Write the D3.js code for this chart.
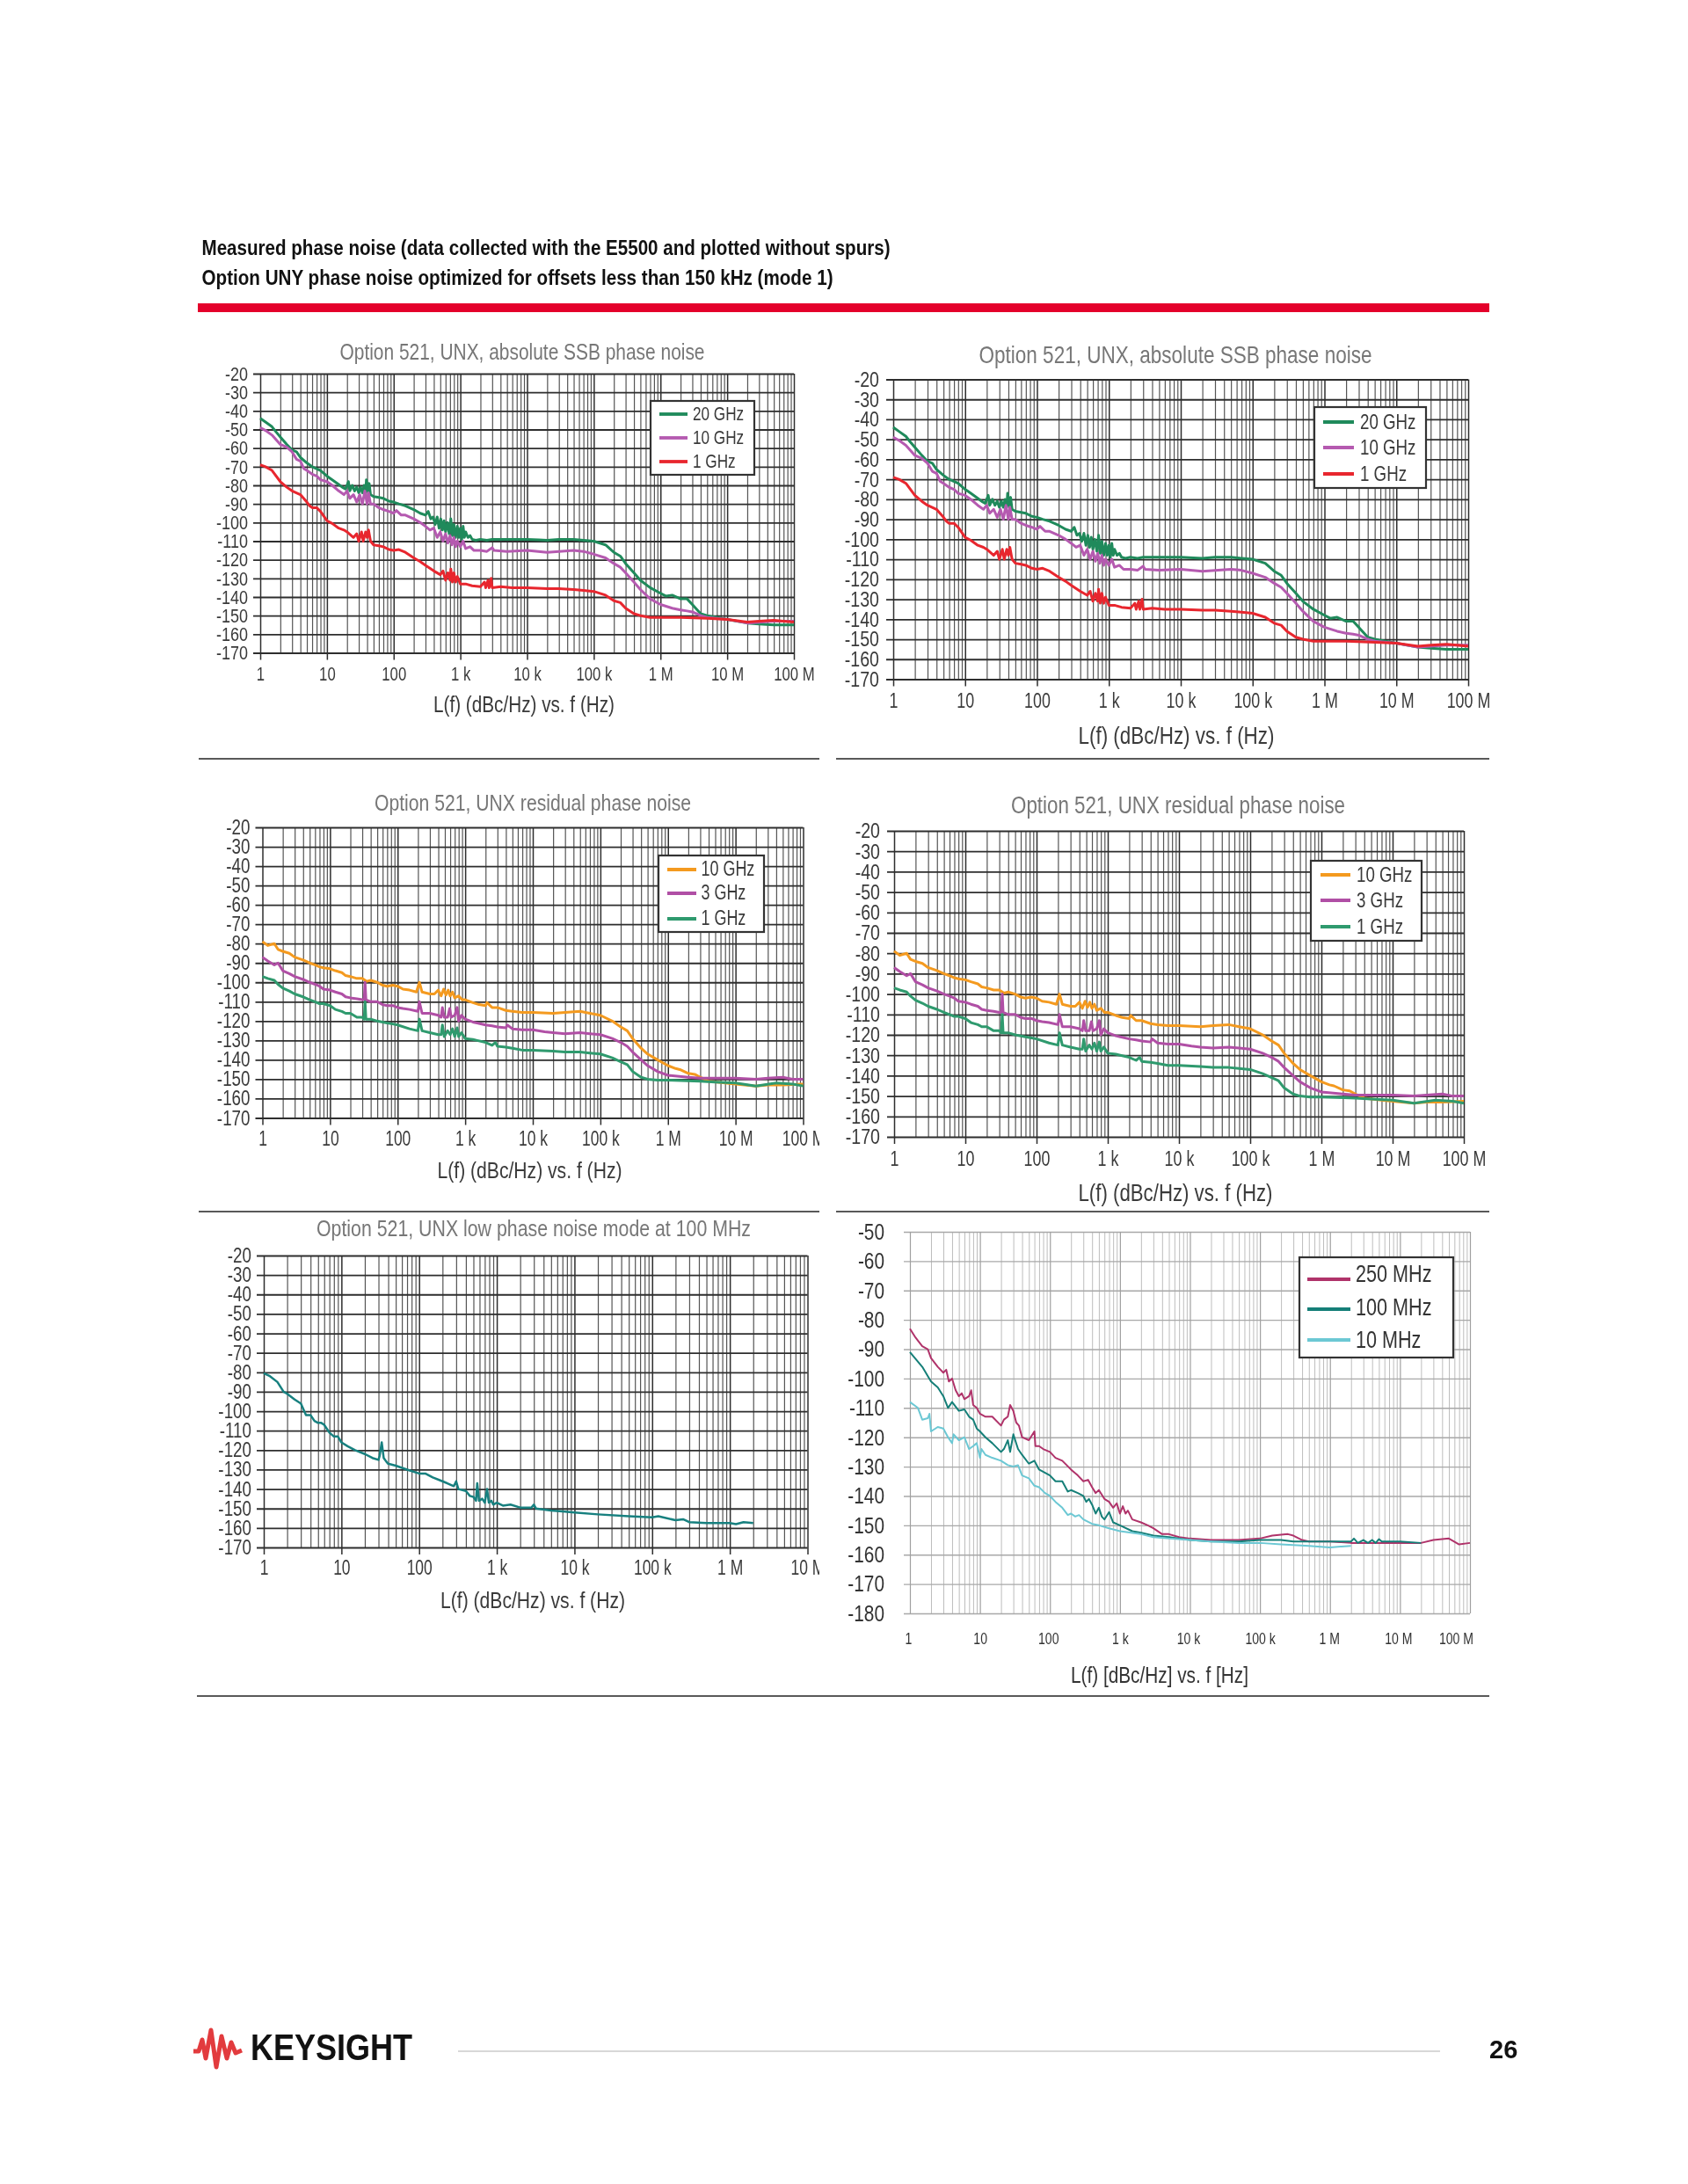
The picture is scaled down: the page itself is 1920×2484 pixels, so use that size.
<!DOCTYPE html>
<html><head><meta charset="utf-8">
<script src="https://cdn.jsdelivr.net/npm/d3@7"></script>
<style>html,body{margin:0;padding:0;background:#fff}svg{display:block;filter:blur(0.5px)}text{font-family:"Liberation Sans",Arial,sans-serif}</style>
</head><body><svg id="page" width="1920" height="2484"></svg>
<script>
// ---------- text ----------
const headingLines = ["Measured phase noise (data collected with the E5500 and plotted without spurs)",
  "Option UNY phase noise optimized for offsets less than 150 kHz (mode 1)"];
const titleAbsolute = "Option 521, UNX, absolute SSB phase noise";
const titleResidual = "Option 521, UNX residual phase noise";
const titleLow = "Option 521, UNX low phase noise mode at 100 MHz";
const axisTitleRound = "L(f) (dBc/Hz) vs. f (Hz)";
const axisTitleSquare = "L(f) [dBc/Hz] vs. f [Hz]";
const freqTicks = [1,10,100,1e3,1e4,1e5,1e6,1e7,1e8];
const freqLabels = ["1","10","100","1 k","10 k","100 k","1 M","10 M","100 M"];
const dbTicksA = [-20,-30,-40,-50,-60,-70,-80,-90,-100,-110,-120,-130,-140,-150,-160,-170];
const dbTicksB = [-50,-60,-70,-80,-90,-100,-110,-120,-130,-140,-150,-160,-170,-180];

// ---------- series: [offset Hz, dBc/Hz] ----------
const abs20GHz = [[1,-44],[1.2,-46],[1.5,-48.5],[1.7,-51],[2,-54],[2.5,-58],[3,-61],[3.5,-62],[4,-65],[5,-68],[6,-70],[8,-72],[10,-75],[12,-77],[15,-79.5],[17,-81],[19,-82],[21,-78],[22,-83],[24,-80],[26,-83],[28,-81],[30,-84],[32,-81],[34,-84],[36,-80],[38,-84],[39,-77],[41,-83],[43,-79],[45,-85],[50,-86],[60,-86.5],[70,-87],[85,-88.5],[100,-89],[120,-90],[150,-91],[200,-93],[250,-95],[300,-96],[330,-94],[360,-98],[390,-97],[420,-101],[450,-97],[480,-103],[510,-98],[540,-104],[570,-99],[600,-105],[640,-100],[680,-106],[720,-98],[760,-107],[800,-101],[850,-108],[900,-102],[950,-108],[1000,-103],[1050,-109],[1100,-102],[1150,-108],[1200,-105],[1300,-108],[1400,-107],[1500,-109],[1700,-109.5],[2000,-109],[2500,-109.5],[3000,-109],[5000,-109],[10000,-109],[15000,-109.3],[20000,-109.5],[30000,-109],[50000,-109],[70000,-109.5],[100000,-110],[150000,-112],[200000,-116],[250000,-118],[300000,-122],[400000,-127],[500000,-131],[700000,-135],[1000000,-138],[1200000,-139.5],[1500000,-139],[2000000,-141],[2500000,-141],[3000000,-144],[4000000,-149],[5000000,-150],[7000000,-151],[1e7,-152],[2e7,-154],[3e7,-154.5],[5e7,-155],[7e7,-155],[1e8,-155]];
const abs10GHz = [[1,-49],[1.2,-50.5],[1.5,-53],[2,-58],[2.5,-59.5],[3,-62],[3.5,-66],[4,-67],[4.5,-71],[5,-72],[6,-74],[7,-75],[8,-77],[10,-78],[12,-80],[15,-83],[18,-85],[20,-83],[22,-87],[25,-85],[28,-89],[31,-85],[34,-90],[37,-83],[40,-90],[42,-84],[45,-90],[50,-90],[60,-92],[70,-93],[85,-94],[100,-95],[110,-93.5],[130,-96],[150,-96],[200,-98],[250,-100],[300,-102],[350,-104],[400,-103],[450,-108],[500,-105],[550,-110],[600,-106],[650,-111],[700,-107],[750,-112],[800,-108],[850,-113],[900,-110],[1000,-113],[1100,-110],[1200,-114],[1400,-113],[1600,-115],[2000,-115],[2500,-115.5],[3000,-113.5],[3200,-115],[5000,-115.5],[10000,-115],[20000,-116],[50000,-115],[70000,-115.5],[100000,-117],[150000,-119],[200000,-122],[250000,-124],[300000,-127],[400000,-132],[500000,-136],[700000,-141],[1000000,-144],[1500000,-146],[2000000,-147],[2500000,-147.5],[3000000,-148],[4000000,-150],[5000000,-151],[1e7,-152],[2e7,-154],[5e7,-153],[1e8,-153]];
const abs1GHz = [[1,-69],[1.2,-70],[1.5,-72],[2,-78],[2.5,-81],[3,-83],[4,-85],[5,-89],[5.5,-91],[6,-92],[7,-92],[8,-94],[10,-99],[12,-100.5],[15,-103],[18,-104],[20,-105],[25,-108],[28,-106],[30,-110],[33,-105],[35,-110],[38,-105],[40,-108],[42,-104],[45,-110],[50,-112],[60,-112.5],[70,-113],[85,-114.5],[100,-115],[120,-114.5],[150,-116],[200,-119],[250,-121],[300,-123],[400,-126],[500,-128],[550,-126],[600,-131],[650,-127],[700,-131],[720,-125],[760,-132],[800,-127],[850,-132],[900,-129],[1000,-133],[1200,-133],[1500,-134],[2000,-134.5],[2300,-132],[2400,-135],[2600,-131],[2700,-135],[2900,-130],[3000,-135],[4000,-134.5],[6000,-135],[10000,-135],[20000,-135.5],[30000,-135.5],[50000,-136],[70000,-136.5],[100000,-137],[150000,-139],[200000,-142],[250000,-143],[300000,-146],[400000,-149],[500000,-150],[700000,-151],[1000000,-151],[2000000,-151],[5000000,-151.5],[1e7,-152],[2e7,-153.5],[3e7,-153],[5e7,-152.5],[7e7,-153],[1e8,-153.5]];

const res10GHz = [[1,-79],[1.2,-81],[1.5,-80],[1.7,-83],[2,-84],[2.5,-85],[3,-87],[4,-88.5],[5,-90],[6,-91],[7,-92],[8,-92.5],[10,-93],[12,-94],[15,-95],[17,-96.5],[20,-97],[25,-98],[30,-98],[35,-99.5],[40,-99],[50,-100],[60,-101.5],[70,-102],[85,-101.5],[100,-102],[120,-103.5],[150,-104],[190,-105],[210,-100],[230,-105],[300,-106],[350,-106],[400,-104],[440,-107],[480,-103.5],[520,-106.5],[560,-104],[600,-107],[650,-105],[700,-108],[800,-107],[900,-109],[1000,-109],[1300,-110.5],[1600,-111.5],[2000,-112],[2100,-110.5],[2500,-113],[3000,-113],[4000,-114.5],[5000,-115],[7000,-115.5],[10000,-115.5],[20000,-116],[30000,-115.5],[50000,-115],[70000,-116],[100000,-117],[150000,-120],[200000,-123],[250000,-125],[300000,-129],[400000,-134],[500000,-137],[700000,-140],[1000000,-143],[1300000,-144.5],[1500000,-145],[2000000,-147],[2500000,-147.5],[3000000,-149],[4000000,-151],[7000000,-152],[1e7,-152.5],[2e7,-153.5],[3e7,-153],[5e7,-153],[1e8,-152.5]];
const res3GHz = [[1,-87],[1.2,-89],[1.5,-91],[1.7,-90],[2,-94],[2.5,-95.5],[3,-97],[4,-98.5],[5,-100],[6,-101],[7,-102],[8,-103.5],[10,-104],[12,-105],[15,-106],[17,-107.5],[20,-108],[25,-108.5],[30,-109],[32,-109],[33,-100],[34,-109],[40,-110],[50,-110],[60,-111.5],[70,-112],[85,-112],[100,-113],[120,-113.5],[150,-114],[200,-115],[210,-110],[230,-116],[300,-116],[400,-117],[440,-118],[460,-113],[490,-118],[550,-118],[590,-113.5],[620,-118],[700,-117],[760,-113],[800,-120],[880,-117],[1000,-119],[1300,-120.5],[1500,-121],[2000,-122],[2500,-122.5],[3000,-123],[4000,-123.5],[4200,-122],[5000,-124],[7000,-124.5],[10000,-124.5],[15000,-125.5],[20000,-126],[30000,-126.5],[50000,-126],[70000,-126.5],[100000,-127],[150000,-129],[200000,-131],[250000,-133],[300000,-136],[400000,-140],[500000,-143],[700000,-146],[1000000,-148],[2000000,-149],[3000000,-149.5],[5000000,-149.5],[1e7,-149.5],[2e7,-150],[3e7,-149.5],[5e7,-149],[7e7,-150],[1e8,-150]];
const res1GHz = [[1,-97],[1.2,-98],[1.5,-99],[1.7,-101],[2,-103],[2.5,-104.5],[3,-106],[4,-107.5],[5,-109],[6,-110],[7,-111],[8,-111],[10,-112],[12,-114],[15,-115],[17,-116],[20,-116],[25,-118],[30,-118],[32,-119],[33,-110],[34,-119],[40,-119],[50,-120],[60,-120.5],[70,-121],[85,-121.5],[100,-122],[150,-124],[200,-125],[210,-119],[230,-125],[300,-126],[400,-127],[440,-127],[460,-122],[490,-128],[550,-125],[600,-127],[650,-124],[700,-128],[760,-123.5],[800,-128],[880,-126],[1000,-129],[1300,-129.5],[1500,-130],[2000,-131],[2500,-132.5],[2800,-131],[3000,-133],[4000,-133.5],[5000,-134],[7000,-135],[10000,-135],[20000,-135.5],[30000,-136],[50000,-136],[70000,-136.5],[100000,-137],[150000,-139],[200000,-141],[250000,-142.5],[300000,-146],[400000,-149],[500000,-150],[700000,-150.5],[1000000,-150.5],[3000000,-151],[5000000,-151.5],[1e7,-152],[2e7,-153.5],[4e7,-152],[7e7,-152.5],[1e8,-153.5]];

const low100MHz = [[1,-80.5],[1.2,-82],[1.5,-85],[1.8,-90],[2,-91],[2.5,-94],[3,-96],[3.5,-102],[4,-102],[4.5,-105],[5,-106],[5.5,-106],[6,-107],[7,-111],[8,-113],[9,-113],[10,-116],[12,-118],[15,-120],[20,-122],[25,-124],[30,-125],[31,-123],[33,-116],[35,-124],[38,-126],[40,-127],[50,-128],[70,-130],[100,-132],[120,-132],[150,-134],[200,-136],[280,-138.5],[300,-136],[320,-140],[400,-141],[450,-143.5],[500,-144],[540,-146],[560,-137],[590,-146],[650,-145],[700,-147],[750,-140],[790,-147],[850,-146],[900,-148],[1000,-147],[1200,-148.5],[1500,-148],[2000,-149.5],[2800,-149.5],[3000,-148],[3200,-150],[5000,-151],[7000,-151.5],[10000,-152],[20000,-153],[50000,-154],[100000,-154.5],[120000,-154],[200000,-156],[250000,-155.5],[300000,-157],[500000,-157.5],[1000000,-157.5],[1200000,-158],[1500000,-157],[2000000,-157.5]];

const mhz250 = [[1,-83],[1.2,-86],[1.5,-89],[1.8,-90],[2,-93],[2.5,-96],[3,-98],[3.3,-97],[3.6,-101],[4,-100],[4.5,-104],[5,-106],[5.5,-105],[6,-107],[7,-106],[7.5,-104],[8,-109],[9,-110],[10,-112],[12,-113],[15,-113],[20,-116],[22,-114],[25,-113],[27,-109],[30,-111],[33,-115],[36,-116],[40,-120],[50,-121],[60,-118],[62,-123],[70,-123],[80,-124],[100,-125],[120,-127],[150,-128],[200,-131],[250,-133],[300,-135],[350,-134.5],[400,-137],[450,-139],[500,-138],[600,-141],[700,-142],[800,-144],[900,-142.5],[1000,-146],[1100,-143.5],[1200,-146],[1300,-145],[1500,-148],[2000,-149],[2500,-150],[3000,-151],[4000,-153],[5000,-153],[7000,-154],[10000,-154.5],[20000,-155],[50000,-155],[100000,-154.5],[150000,-153.5],[250000,-153],[300000,-153.5],[400000,-155],[500000,-155.5],[1000000,-155.5],[2000000,-156],[5000000,-156],[1e7,-156],[2e7,-156],[3e7,-155],[5e7,-154.5],[7e7,-156.5],[1e8,-156]];
const mhz100 = [[1,-91],[1.5,-96],[2,-101],[2.5,-103],[3,-106],[3.5,-110],[4,-108],[5,-111],[6,-110.5],[7,-113],[8,-114],[9,-117],[10,-118],[12,-120],[15,-122],[20,-125],[22,-124],[25,-121],[27,-125],[30,-119],[35,-124],[40,-126],[50,-129],[60,-128],[70,-131],[100,-133],[120,-135],[150,-135],[180,-138.5],[200,-138],[250,-139],[300,-140],[330,-142],[360,-141],[400,-143],[450,-146],[500,-144],[550,-147],[600,-148],[700,-145.5],[800,-149],[1000,-150],[1500,-152],[2000,-152.5],[3000,-153.5],[5000,-154],[10000,-155],[20000,-155.5],[50000,-155.5],[100000,-155],[200000,-155],[300000,-155.5],[500000,-155.5],[1000000,-155.5],[2000000,-155.5],[2200000,-154.5],[2500000,-156],[3000000,-155],[3500000,-156],[4000000,-155],[4500000,-156],[5000000,-154.7],[5500000,-155.5],[1e7,-155.5],[2e7,-156]];
const mhz10 = [[1,-108],[1.3,-110],[1.5,-114],[1.8,-113.5],[1.9,-112],[2,-118],[2.5,-116.5],[3,-117],[3.5,-120],[4,-122],[4.2,-119],[5,-121],[6,-120],[7,-124],[8,-123],[9,-122],[10,-127],[10.5,-124],[12,-126],[15,-127],[20,-128],[25,-129.5],[30,-130],[35,-129.5],[40,-133],[50,-134],[60,-136.5],[70,-137],[85,-139],[100,-140],[120,-142],[150,-144],[180,-146.5],[200,-146],[230,-147],[260,-146.5],[300,-148],[400,-149.5],[500,-150],[700,-151],[1000,-152],[2000,-153],[3000,-154],[5000,-154.5],[10000,-155],[20000,-155.5],[50000,-156],[100000,-156],[200000,-156.5],[500000,-157],[1000000,-157.5],[2000000,-157]];

// ---------- colours ----------
const green = "#1f8a5b", magenta = "#b55ab0", red = "#e8262e", orange = "#f49a1f",
      purple = "#b04fa5", mint = "#2f9a6e", teal = "#17807f",
      wine = "#b0336a", deepTeal = "#157f78", sky = "#6cc8d4";

const absSeries = [{name:"20 GHz",data:abs20GHz,color:green},{name:"10 GHz",data:abs10GHz,color:magenta},{name:"1 GHz",data:abs1GHz,color:red}];
const resSeries = [{name:"10 GHz",data:res10GHz,color:orange},{name:"3 GHz",data:res3GHz,color:purple},{name:"1 GHz",data:res1GHz,color:mint}];
const lowSeries = [{name:"100 MHz",data:low100MHz,color:teal}];
const lastSeries = [{name:"250 MHz",data:mhz250,color:wine},{name:"100 MHz",data:mhz100,color:deepTeal},{name:"10 MHz",data:mhz10,color:sky}];

const svg = d3.select("#page");
let clipId = 0;
function fit(sel, k){ sel.each(function(){ const w=this.getComputedTextLength(); this.setAttribute("lengthAdjust","spacingAndGlyphs"); this.setAttribute("textLength",w*k); }); }
function width(sel, w){ sel.attr("lengthAdjust","spacingAndGlyphs").attr("textLength",w); }

function drawChart(c){
  let g = svg.append("g");
  if(c.clipRight){ const id="clip"+(++clipId);
    svg.append("clipPath").attr("id",id).append("rect").attr("x",0).attr("y",0).attr("width",c.clipRight).attr("height",2484);
    g.attr("clip-path",`url(#${id})`); }
  const xTop = c.domainMax||1e8;
  const x = d3.scaleLog().domain([1,xTop]).range([c.x0,c.x1]);
  const yVals = c.yTicks;
  const y = d3.scaleLinear().domain([yVals[0],yVals[yVals.length-1]]).range([c.y0,c.y1]);
  const decades = freqTicks.filter(d=>d<=xTop);
  const minors = []; decades.slice(0,-1).forEach(d=>{ for(let m=2;m<=9;m++) minors.push(d*m); });
  const gc = c.gridColor, gw = c.gridWidth;
  const grid = g.append("g").attr("transform",`translate(0,${c.y1})`)
    .call(d3.axisBottom(x).tickValues(minors).tickSize(-(c.y1-c.y0)).tickFormat(""));
  grid.select(".domain").remove();
  grid.selectAll("line").attr("stroke",gc).attr("stroke-width",gw);
  const ya = g.append("g").attr("transform",`translate(${c.x0},0)`)
    .call(d3.axisLeft(y).tickValues(yVals).tickSize(0).tickFormat(""));
  ya.select(".domain").remove();
  ya.selectAll("g.tick").append("line").attr("x1",-c.tick).attr("x2",c.x1-c.x0)
    .attr("stroke",c.hColor||gc).attr("stroke-width",c.hWidth||gw);
  ya.selectAll("g.tick").append("text").text(d=>d)
    .attr("x",c.yLabelRight-c.x0).attr("dy","0.32em").attr("text-anchor","end")
    .attr("fill",c.textColor).attr("font-size",c.yFont).call(fit,c.yFit);
  const xa = g.append("g").attr("transform",`translate(0,${c.y1})`)
    .call(d3.axisBottom(x).tickValues(decades).tickSize(0).tickFormat(""));
  xa.select(".domain").remove();
  xa.selectAll("g.tick").append("line").attr("y1",c.xTick).attr("y2",-(c.y1-c.y0))
    .attr("stroke",c.majorColor||gc).attr("stroke-width",c.majorWidth||gw);
  xa.selectAll("g.tick").append("text").text((d,i)=>freqLabels[i])
    .attr("x",(d,i)=>(c.xLabelShift&&c.xLabelShift[i])||0)
    .attr("y",c.xLabelY-c.y1).attr("dy","0.36em").attr("text-anchor","middle")
    .attr("fill",c.textColor).attr("font-size",c.xFont).call(fit,c.xFit);
  const line = d3.line().x(d=>x(d[0])).y(d=>y(d[1]));
  g.append("g").selectAll("path").data(c.series).join("path")
    .attr("d",d=>line(d.data)).attr("fill","none").attr("stroke",d=>d.color)
    .attr("stroke-width",c.lineWidth).attr("stroke-linejoin","round");
  if(c.title) g.append("text").text(c.title).attr("x",c.titleX).attr("y",c.titleY).attr("dy","0.36em")
    .attr("text-anchor","middle").attr("fill","#777").attr("font-size",c.titleFont).call(width,c.titleW);
  g.append("text").text(c.axisTitle).attr("x",c.axisX).attr("y",c.axisY).attr("dy","0.36em")
    .attr("text-anchor","middle").attr("fill",c.textColor).attr("font-size",c.axisFont).call(width,c.axisW);
  if(c.legend){ const L=c.legend;
    const lg=g.append("g");
    lg.append("rect").attr("x",L.x0).attr("y",L.y0).attr("width",L.x1-L.x0).attr("height",L.y1-L.y0)
      .attr("fill","#fff").attr("stroke","#333").attr("stroke-width",2.2);
    c.series.forEach((s,i)=>{
      lg.append("line").attr("x1",L.lx0).attr("x2",L.lx1).attr("y1",L.ys[i]).attr("y2",L.ys[i]).attr("stroke",s.color).attr("stroke-width",L.lw);
      lg.append("text").text(s.name).attr("x",L.tx).attr("y",(L.tys||L.ys)[i]).attr("dy","0.32em").attr("fill",c.textColor)
        .attr("font-size",L.font).call(fit,L.fit);
    });
  }
}

// ---------- page furniture ----------
svg.append("text").text(headingLines[0]).attr("x",229.5).attr("y",282).attr("dy","0.36em").attr("font-weight","bold").attr("font-size",23).attr("fill","#111").call(width,783);
svg.append("text").text(headingLines[1]).attr("x",229.5).attr("y",316).attr("dy","0.36em").attr("font-weight","bold").attr("font-size",23).attr("fill","#111").call(width,718);
svg.append("rect").attr("x",225).attr("y",345).attr("height",10).attr("fill","#e4002b").attr("width",1469);
[[226,932,863],[951,1694,863],[226,932,1378],[951,1694,1378],[224,1694,1929]].forEach(s=>{
  svg.append("line").attr("x1",s[0]).attr("x2",s[1]).attr("y1",s[2]).attr("y2",s[2]).attr("stroke","#222").attr("stroke-width",1.7);
});

const base = {gridColor:"#555",gridWidth:1.2,hColor:"#2e2e2e",hWidth:1.8,majorColor:"#2e2e2e",majorWidth:1.5,textColor:"#3a3a3a",tick:8,xTick:8,lineWidth:3,yTicks:dbTicksA,yFit:.8,xFit:.76};

drawChart({...base,series:absSeries,x0:296,x1:903,y0:425,y1:742.5,yLabelRight:282,xLabelY:766,yFont:22.5,xFont:22,
  title:titleAbsolute,titleX:594,titleY:400,titleW:415,titleFont:26,axisTitle:axisTitleRound,axisX:596,axisY:801,axisW:206,axisFont:26,
  legend:{x0:740,x1:858,y0:456,y1:540,lx0:750,lx1:782,ys:[471,498,525],tx:788,font:22,fit:.78,lw:3.8}});
drawChart({...base,series:absSeries,x0:1016,x1:1670,y0:431.5,y1:772.5,yLabelRight:1000,xLabelY:797,yFont:24.5,xFont:23.5,
  title:titleAbsolute,titleX:1337,titleY:403,titleW:447,titleFont:28,axisTitle:axisTitleRound,axisX:1338,axisY:836,axisW:223,axisFont:28,
  legend:{x0:1495,x1:1622,y0:463,y1:555,lx0:1505,lx1:1540,ys:[480,509,539],tx:1547,font:24,fit:.78,lw:3.8}});
drawChart({...base,series:resSeries,x0:298.5,x1:913.5,y0:941,y1:1271.5,yLabelRight:284.5,xLabelY:1295,yFont:23.5,xFont:23,clipRight:932,
  title:titleResidual,titleX:606,titleY:913,titleW:360,titleFont:26,axisTitle:axisTitleRound,axisX:602.5,axisY:1331,axisW:210,axisFont:26,
  legend:{x0:749,x1:869,y0:973,y1:1060,lx0:759,lx1:792,ys:[989,1016,1045],tx:797.5,font:23,fit:.78,lw:3.8}});
drawChart({...base,series:resSeries,x0:1017,x1:1665,y0:945,y1:1293,yLabelRight:1001,xLabelY:1318,yFont:24.5,xFont:23.5,
  title:titleResidual,titleX:1340,titleY:915,titleW:380,titleFont:27,axisTitle:axisTitleRound,axisX:1337,axisY:1356,axisW:221,axisFont:27,
  legend:{x0:1491,x1:1617,y0:979,y1:1070,lx0:1502,lx1:1536,ys:[995,1024,1054],tx:1543,font:24,fit:.78,lw:3.8}});
drawChart({...base,series:lowSeries,domainMax:1e7,x0:300,x1:918.5,y0:1428,y1:1760,yLabelRight:286,xLabelY:1783,yFont:23.5,xFont:23,clipRight:932,lineWidth:2.5,
  title:titleLow,titleX:607,titleY:1397,titleW:494,titleFont:26,axisTitle:axisTitleRound,axisX:606,axisY:1820,axisW:210,axisFont:26});
drawChart({...base,series:lastSeries,gridColor:"#bdbdbd",gridWidth:1,hColor:"#a8a8a8",hWidth:1.4,majorColor:"#a0a0a0",majorWidth:1.2,textColor:"#333",xTick:0,tick:7,lineWidth:2,
  yTicks:dbTicksB,x0:1035,x1:1672,y0:1401,y1:1835,yLabelRight:1006,xLabelY:1864,yFont:26,xFont:18,yFit:.8,xFit:.78,xLabelShift:[-2,0,-2,0,-2,0,-1,-2,-16],
  axisTitle:axisTitleSquare,axisX:1319,axisY:1905,axisW:202,axisFont:25,
  legend:{x0:1478,x1:1653,y0:1430,y1:1544,lx0:1487,lx1:1536,ys:[1455,1489,1524],tys:[1449,1487,1524],tx:1542,font:27,fit:.8,lw:4}});

// ---------- footer ----------
svg.append("path").attr("d","M220 2333 L226 2333 L230 2320 L234 2341 L240 2309 L246 2351 L252 2316 L258 2341 L263 2323 L268 2335 L275 2332")
  .attr("fill","none").attr("stroke","#e23b3e").attr("stroke-width",5).attr("stroke-linejoin","round");
svg.append("text").text("KEYSIGHT").attr("x",285).attr("y",2343).attr("font-weight","bold").attr("font-size",42).attr("fill","#111").call(width,184);
svg.append("line").attr("x1",521).attr("x2",1638).attr("y1",2333).attr("y2",2333).attr("stroke","#d8d8d8").attr("stroke-width",2);
svg.append("text").text("26").attr("x",1694).attr("y",2331).attr("dy","0.36em").attr("font-weight","bold").attr("font-size",29).attr("fill","#111");
</script></body></html>
